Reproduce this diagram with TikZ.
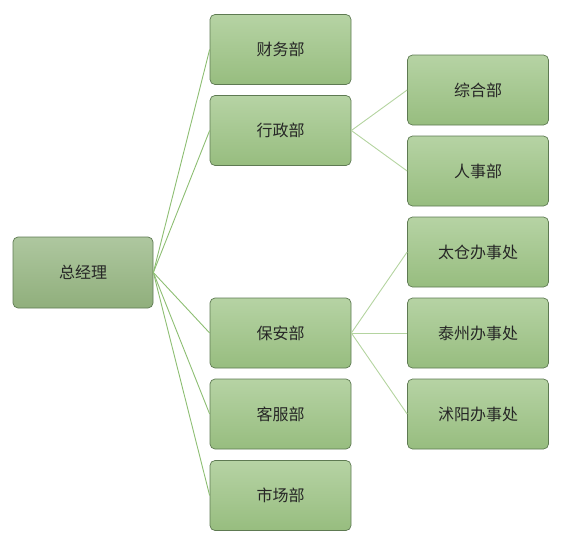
\documentclass[tikz,border=0pt]{standalone}
\usepackage{fontspec}
\setmainfont{Noto Sans CJK SC}
\begin{document}
\begin{tikzpicture}[x=1pt,y=-1pt,
  box/.style={draw=boxline, line width=0.7pt, rounded corners=5pt, minimum width=141pt, minimum height=70pt,
    top color=boxtop, bottom color=boxbot, font=\fontsize{16}{18}\selectfont, text=black!85, inner sep=0pt},
  rootbox/.style={box, top color=roottop, bottom color=rootbot, minimum width=140pt, minimum height=71pt},
  link1/.style={draw=linkA, line width=0.9pt},
  link2/.style={draw=linkB, line width=0.9pt}]
\definecolor{boxline}{HTML}{5E7A52}
\definecolor{boxtop}{HTML}{B6D3A4}
\definecolor{boxbot}{HTML}{97BD7F}
\definecolor{roottop}{HTML}{AEC79F}
\definecolor{rootbot}{HTML}{90AF7C}
\definecolor{linkA}{HTML}{8DBE73}
\definecolor{linkB}{HTML}{B4D4A0}
\useasboundingbox (0,0) rectangle (565,555);
\node[rootbox] (root) at (83,272.5) {总经理};
\node[box] (cw) at (280.5,49.5) {财务部};
\node[box] (xz) at (280.5,130.5) {行政部};
\node[box] (ba) at (280.5,333) {保安部};
\node[box] (kf) at (280.5,414) {客服部};
\node[box] (sc) at (280.5,495.5) {市场部};
\node[box] (zh) at (478,90) {综合部};
\node[box] (rs) at (478,171) {人事部};
\node[box] (tc) at (478,252) {太仓办事处};
\node[box] (tz) at (478,333) {泰州办事处};
\node[box] (sy) at (478,414) {沭阳办事处};
\foreach \n in {cw,xz,ba,kf,sc} \draw[link1] (root.east) -- (\n.west);
\foreach \n in {zh,rs} \draw[link2] (xz.east) -- (\n.west);
\foreach \n in {tc,tz,sy} \draw[link2] (ba.east) -- (\n.west);
\end{tikzpicture}
\end{document}
